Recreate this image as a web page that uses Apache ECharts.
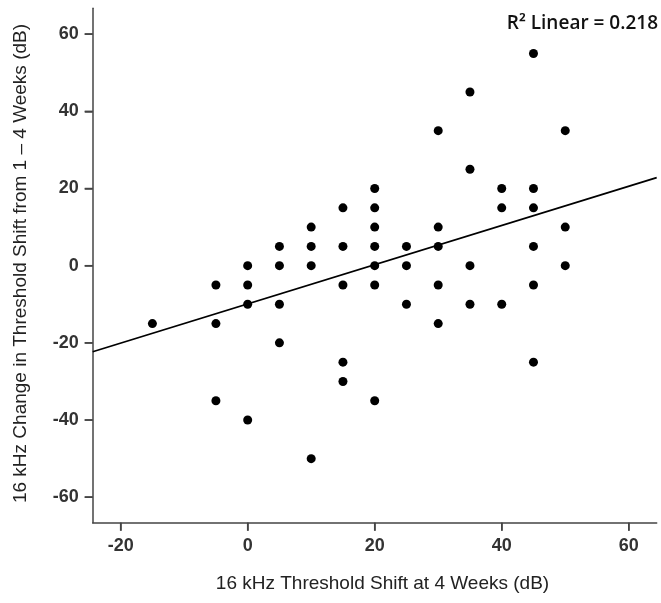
<!DOCTYPE html>
<html>
<head>
<meta charset="utf-8">
<script src="https://cdn.jsdelivr.net/npm/echarts@6/dist/echarts.min.js"></script>
<style>
html,body{margin:0;padding:0;background:#fff;}
#chart{width:661px;height:603px;}
</style>
</head>
<body>
<div id="chart"></div>
<script>
// Threshold shift at 4 weeks (x) and change 1-4 weeks (y), dB
const shiftX = [-15,
  -5, -5, -5,
  0, 0, 0, 0,
  5, 5, 5, 5,
  10, 10, 10, 10,
  15, 15, 15, 15, 15,
  20, 20, 20, 20, 20, 20, 20,
  25, 25, 25,
  30, 30, 30, 30, 30,
  35, 35, 35, 35,
  40, 40, 40,
  45, 45, 45, 45, 45, 45,
  50, 50, 50];
const changeY = [-15,
  -5, -15, -35,
  0, -5, -10, -40,
  5, 0, -10, -20,
  10, 5, 0, -50,
  15, 5, -5, -25, -30,
  20, 15, 10, 5, 0, -5, -35,
  5, 0, -10,
  35, 10, 5, -5, -15,
  45, 25, 0, -10,
  20, 15, -10,
  55, 20, 15, 5, -5, -25,
  35, 10, 0];
// Fit line endpoints
const fitX = [-24.4, 64.4];
const fitY = [-22.3, 22.8];
const xTicks = [-20, 0, 20, 40, 60];
const yTicks = [-60, -40, -20, 0, 20, 40, 60];
const xRange = [-24.4, 64.4];
const yRange = [-66.6, 66.7];
const xTitle = '16 kHz Threshold Shift at 4 Weeks (dB)';
const yTitle = '16 kHz Change in Threshold Shift from 1 \u2013 4 Weeks (dB)';
const rText = 'R\u00b2 Linear = 0.218';

const pts = shiftX.map((x, i) => [x, changeY[i]]);
const fit = fitX.map((x, i) => [x, fitY[i]]);
const TICK_LEN = 8;
const tickStyle = {stroke: '#444', lineWidth: 1.5};

const chart = echarts.init(document.getElementById('chart'), null, {renderer: 'canvas'});
function makeAxis(range, ticks, name, nameGap, namePad) {
  return {
    type: 'value', min: range[0], max: range[1],
    name: name, nameLocation: 'middle', nameGap: nameGap,
    nameTextStyle: {color: '#222', fontFamily: 'Liberation Sans', fontSize: 19, padding: namePad},
    splitLine: {show: false},
    axisLine: {show: true, onZero: false, lineStyle: {color: '#444', width: 1.5}},
    axisTick: {show: true, length: TICK_LEN, customValues: ticks.slice(), lineStyle: {color: '#444', width: 1.5}},
    axisLabel: {customValues: ticks.slice(), margin: 14, color: '#333', fontFamily: 'Liberation Sans', fontWeight: 'bold', fontSize: 18}
  };
}
chart.setOption({
  animation: false,
  backgroundColor: '#fff',
  title: {text: rText, right: 3, top: 14, padding: 0,
    textStyle: {color: '#111', fontFamily: 'Open Sans', fontWeight: 600, fontSize: 19}},
  grid: {left: 92.7, right: 4.3, top: 8.3, bottom: 80.3},
  xAxis: makeAxis(xRange, xTicks, xTitle, 52, [0, 0, 0, 15.6]),
  yAxis: makeAxis(yRange, yTicks, yTitle, 62, [0, 0, 0, 4]),
  series: [
    {type: 'line', data: fit, symbol: 'none', lineStyle: {color: '#000', width: 1.8}, z: 3, silent: true},
    {type: 'scatter', data: pts, symbol: 'circle', symbolSize: 9, itemStyle: {color: '#000', opacity: 1}, z: 4},
    // outward tick marks on the bottom axis, positioned through the x scale
    {type: 'custom', silent: true, clip: false, z: 5,
      data: xTicks.map(v => [v, yRange[0]]),
      renderItem: function (params, api) {
        const p = api.coord([api.value(0), api.value(1)]);
        return {type: 'line', shape: {x1: p[0], y1: p[1], x2: p[0], y2: p[1] + TICK_LEN}, style: tickStyle};
      }},
    // outward tick marks on the left axis, positioned through the y scale
    {type: 'custom', silent: true, clip: false, z: 5,
      data: yTicks.map(v => [xRange[0], v]),
      renderItem: function (params, api) {
        const p = api.coord([api.value(0), api.value(1)]);
        return {type: 'line', shape: {x1: p[0] - TICK_LEN, y1: p[1], x2: p[0], y2: p[1]}, style: tickStyle};
      }}
  ]
});
</script>
</body>
</html>
